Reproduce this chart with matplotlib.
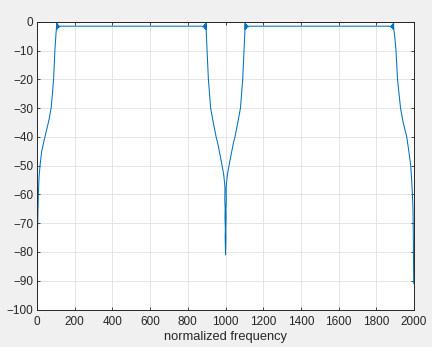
import matplotlib.pyplot as plt
import numpy as np

# frequency response, segment by segment (x = normalized frequency, y = dB)
dc_rise_f = [1, 2, 3, 5, 7, 9, 11, 16, 25, 42, 64, 75, 82, 88, 95, 101, 104]
dc_rise_db = [-91, -82, -73, -66, -61, -57, -54, -50, -45, -40, -34, -30, -25, -20, -10, -4, -1.5]

band1_f = [104, 105, 106, 108, 110, 112, 115, 119, 125, 875, 881, 885, 888, 890, 892, 894, 895, 896]
band1_db = [-0.5, -2.6, -0.6, -2.4, -0.9, -2.1, -1.2, -1.8, -1.5, -1.5, -1.8, -1.2, -2.1, -0.9, -2.4, -0.6, -2.6, -0.5]

notch_f = [897, 902, 909, 921, 935, 950, 958, 976, 990, 995, 997, 996, 998, 997, 999, 998, 1000,
           1002, 1001, 1003, 1002, 1004, 1003, 1005, 1010, 1024, 1042, 1050, 1065, 1079, 1091, 1098, 1103]
notch_db = [-2.5, -10, -20, -30, -35, -40, -42, -48, -53, -56, -58, -62, -65, -68, -72, -75, -81,
            -75, -72, -68, -65, -62, -58, -56, -53, -48, -42, -40, -35, -30, -20, -10, -2.5]

band2_f = [1104, 1105, 1106, 1108, 1110, 1112, 1115, 1119, 1125, 1870, 1876, 1880, 1883, 1885, 1887, 1889, 1890, 1891]
band2_db = [-0.5, -2.6, -0.6, -2.4, -0.9, -2.1, -1.2, -1.8, -1.5, -1.5, -1.8, -1.2, -2.1, -0.9, -2.4, -0.6, -2.6, -0.5]

nyq_fall_f = [1892, 1897, 1904, 1912, 1920, 1928, 1942, 1961, 1972, 1982, 1987, 1991, 1994, 1995, 1996, 1997, 1998]
nyq_fall_db = [-2.5, -5, -10, -20, -25, -30, -35, -40, -45, -50, -55, -60, -65, -70, -76, -84, -91]

xticks = list(range(0, 2001, 200))
yticks = list(range(-100, 1, 10))

freq = np.concatenate([dc_rise_f, band1_f, notch_f, band2_f, nyq_fall_f])
mag = np.concatenate([dc_rise_db, band1_db, notch_db, band2_db, nyq_fall_db])

plt.rcParams['font.family'] = ['Liberation Sans', 'DejaVu Sans']

fig = plt.figure(figsize=(4.32, 3.47), dpi=100)
fig.patch.set_facecolor('#f0f0f0')
ax = fig.add_axes([0.0856, 0.108, 0.873, 0.829])
ax.set_facecolor('white')

ax.plot(freq, mag, color='#0072BD', linewidth=0.75)

ax.set_xlim(0, 2000)
ax.set_ylim(-100, 0)
ax.set_xticks(xticks)
ax.set_yticks(yticks)
ax.grid(True, color='#e1e1e1', linewidth=0.6)
ax.set_axisbelow(True)

for s in ax.spines.values():
    s.set_color('#262626')
    s.set_linewidth(0.7)

ax.tick_params(axis='both', which='both', direction='in', length=2.5, width=0.6,
               colors='#262626', labelsize=8.5, top=True, right=True)
ax.tick_params(axis='x', pad=5)
ax.tick_params(axis='y', pad=2.5)

ax.set_xlabel('normalized frequency', fontsize=9.3, color='#262626', labelpad=2)

plt.savefig('out.png', dpi=100, facecolor=fig.get_facecolor())
